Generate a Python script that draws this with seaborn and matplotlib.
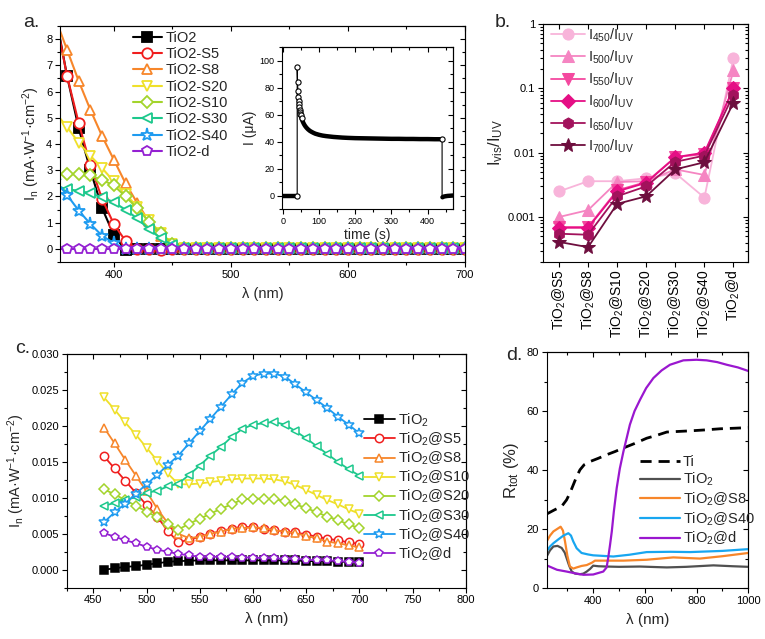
import numpy as np
import pandas as pd
import seaborn as sns
import matplotlib
matplotlib.use('Agg')
import matplotlib.pyplot as plt
from matplotlib.ticker import MultipleLocator, FuncFormatter, LogLocator, NullFormatter

sns.set_theme(style='ticks')
plt.rcParams['font.family'] = ['Liberation Sans', 'DejaVu Sans']
plt.rcParams['mathtext.default'] = 'regular'
plt.rcParams['axes.edgecolor'] = 'black'
plt.rcParams['axes.linewidth'] = 0.8
plt.rcParams['xtick.color'] = 'black'
plt.rcParams['ytick.color'] = 'black'

# ---------------- panel a : photocurrent in UV region ----------------
wl_a = [350, 360, 370, 380, 390, 400, 410, 420, 430, 440, 450, 460, 470, 480, 490, 500, 510, 520,
        530, 540, 550, 560, 570, 580, 590, 600, 610, 620, 630, 640, 650, 660, 670, 680, 690, 700]
labels_a = ['TiO2', 'TiO2-S5', 'TiO2-S8', 'TiO2-S20', 'TiO2-S10', 'TiO2-S30', 'TiO2-S40', 'TiO2-d']
a_tio2 = [9.0, 6.6, 4.6, 3.0, 1.55, 0.53, -0.05, 0.0, 0.0, 0.0, 0.0, 0.0, 0.0, 0.0, 0.0, 0.0, 0.0, 0.0,
          0.0, 0.0, 0.0, 0.0, 0.0, 0.0, 0.0, 0.0, 0.0, 0.0, 0.0, 0.0, 0.0, 0.0, 0.0, 0.0, 0.0, 0.0]
a_s5 = [8.9, 6.6, 4.8, 3.2, 1.9, 0.95, 0.3, 0.0, 0.0, -0.05, 0.0, 0.0, 0.0, 0.0, 0.0, 0.0, 0.0, 0.0,
        0.0, 0.0, 0.0, 0.0, 0.0, 0.0, 0.0, 0.0, 0.0, 0.0, 0.0, 0.0, 0.0, 0.0, 0.0, 0.0, 0.0, 0.0]
a_s8 = [8.8, 7.6, 6.4, 5.3, 4.3, 3.4, 2.5, 1.75, 1.05, 0.5, 0.15, 0.02, 0.02, 0.02, 0.02, 0.02, 0.02, 0.02,
        0.02, 0.02, 0.02, 0.02, 0.02, 0.02, 0.02, 0.02, 0.02, 0.02, 0.02, 0.02, 0.02, 0.02, 0.02, 0.02, 0.02, 0.02]
a_s20 = [5.2, 4.65, 4.05, 3.55, 3.08, 2.57, 2.1, 1.6, 1.1, 0.6, 0.2, 0.03, 0.03, 0.03, 0.03, 0.03, 0.03, 0.03,
         0.03, 0.03, 0.03, 0.03, 0.03, 0.03, 0.03, 0.03, 0.03, 0.03, 0.03, 0.03, 0.03, 0.03, 0.03, 0.03, 0.03, 0.03]
a_s10 = [2.85, 2.85, 2.85, 2.8, 2.63, 2.42, 2.0, 1.55, 1.04, 0.6, 0.2, 0.04, 0.04, 0.04, 0.04, 0.04, 0.04, 0.04,
         0.04, 0.04, 0.04, 0.04, 0.04, 0.04, 0.04, 0.04, 0.04, 0.04, 0.04, 0.04, 0.04, 0.04, 0.04, 0.04, 0.04, 0.04]
a_s30 = [2.4, 2.28, 2.21, 2.12, 1.97, 1.78, 1.49, 1.16, 0.75, 0.41, 0.15, 0.05, 0.05, 0.05, 0.05, 0.05, 0.05, 0.05,
         0.05, 0.05, 0.05, 0.05, 0.05, 0.05, 0.05, 0.05, 0.05, 0.05, 0.05, 0.05, 0.05, 0.05, 0.05, 0.05, 0.05, 0.05]
a_s40 = [2.6, 2.06, 1.46, 0.95, 0.5, 0.22, 0.0, 0.0, 0.0, 0.0, 0.0, 0.0, 0.0, 0.0, 0.0, 0.0, 0.0, 0.0,
         0.0, 0.0, 0.0, 0.0, 0.0, 0.0, 0.0, 0.0, 0.0, 0.0, 0.0, 0.0, 0.0, 0.0, 0.0, 0.0, 0.0, 0.0]
a_d = [0.0, 0.0, 0.0, 0.0, 0.0, 0.0, 0.0, 0.0, 0.0, 0.0, 0.0, 0.0, 0.0, 0.0, 0.0, 0.0, 0.0, 0.0,
       0.0, 0.0, 0.0, 0.0, 0.0, 0.0, 0.0, 0.0, 0.0, 0.0, 0.0, 0.0, 0.0, 0.0, 0.0, 0.0, 0.0, 0.0]

# inset: current transient
t_dark = [0, 5, 10, 15, 20, 25, 30, 35, 40]
i_dark = [0.0, 0.0, 0.0, 0.0, 0.0, 0.0, 0.0, 0.0, 0.0]
t_light = [40, 41, 42, 43, 44, 45, 46, 47, 48, 49, 50, 52, 54, 56, 58, 60, 63, 66, 70, 75, 80, 85, 90,
           100, 110, 120, 130, 140, 150, 165, 180, 200, 220, 240, 260, 280, 300, 320, 340, 360, 380,
           400, 420, 440]
i_light = [95.0, 84.0, 77.5, 73.0, 70.0, 67.5, 65.5, 63.5, 62.0, 60.5, 59.3, 57.3, 55.7, 54.4, 53.3,
           52.3, 51.1, 50.1, 49.0, 47.9, 47.1, 46.4, 45.8, 45.0, 44.4, 44.0, 43.7, 43.4, 43.2, 42.9,
           42.7, 42.5, 42.4, 42.3, 42.2, 42.1, 42.0, 42.0, 41.9, 41.9, 41.8, 41.8, 41.7, 41.7]
t_off = [440, 441, 443, 446, 450, 455, 460, 465, 470]
i_off = [-1.0, -1.3, -1.0, -0.7, -0.5, -0.3, -0.2, -0.1, 0.0]

# ---------------- panel b : vis/UV ratio ----------------
samples_b = ['TiO$_2$@S5', 'TiO$_2$@S8', 'TiO$_2$@S10', 'TiO$_2$@S20', 'TiO$_2$@S30', 'TiO$_2$@S40', 'TiO$_2$@d']
ratio_labels = ['450', '500', '550', '600', '650', '700']
r450 = [0.0025, 0.0036, 0.0036, 0.0040, 0.0048, 0.0020, 0.30]
r500 = [0.0010, 0.00128, 0.0035, 0.0036, 0.0055, 0.0045, 0.19]
r550 = [0.00070, 0.00070, 0.0026, 0.0035, 0.0085, 0.0095, 0.10]
r600 = [0.00068, 0.00068, 0.0025, 0.0034, 0.0085, 0.0100, 0.10]
r650 = [0.00055, 0.00053, 0.0021, 0.0030, 0.0072, 0.0090, 0.08]
r700 = [0.00041, 0.00034, 0.0016, 0.0021, 0.0055, 0.0071, 0.06]

# ---------------- panel c : photocurrent in visible ----------------
wl_c = [460, 470, 480, 490, 500, 510, 520, 530, 540, 550, 560, 570, 580, 590, 600, 610, 620, 630,
        640, 650, 660, 670, 680, 690, 700]
labels_c = ['TiO$_2$', 'TiO$_2$@S5', 'TiO$_2$@S8', 'TiO$_2$@S10', 'TiO$_2$@S20', 'TiO$_2$@S30', 'TiO$_2$@S40', 'TiO$_2$@d']
c_tio2 = [0.0000, 0.0002, 0.0004, 0.0005, 0.0007, 0.0009, 0.0011, 0.0012, 0.00125, 0.0013, 0.0013, 0.0013,
          0.0013, 0.0013, 0.0013, 0.0013, 0.0013, 0.0013, 0.0013, 0.0012, 0.0012, 0.0012, 0.0011, 0.0011, 0.0011]
c_s5 = [0.0158, 0.0141, 0.0124, 0.0107, 0.0090, 0.0074, 0.0054, 0.0038, 0.0042, 0.0046, 0.0050, 0.0054,
        0.0057, 0.0060, 0.0059, 0.0057, 0.0055, 0.0053, 0.0052, 0.0049, 0.0046, 0.0043, 0.0041, 0.0038, 0.0036]
c_s8 = [0.0198, 0.0176, 0.0153, 0.0131, 0.0109, 0.0085, 0.0065, 0.0050, 0.0044, 0.0046, 0.0050, 0.0053,
        0.0057, 0.0058, 0.0059, 0.0058, 0.0055, 0.0053, 0.0051, 0.0047, 0.0044, 0.0039, 0.0037, 0.0034, 0.0031]
c_s10 = [0.0240, 0.0223, 0.0205, 0.0188, 0.0170, 0.0152, 0.0134, 0.0119, 0.0119, 0.0120, 0.0122, 0.0124,
         0.0126, 0.0127, 0.0127, 0.0127, 0.0126, 0.0123, 0.0118, 0.0111, 0.0104, 0.0097, 0.0091, 0.0084, 0.0078]
c_s20 = [0.0112, 0.0105, 0.0097, 0.0089, 0.0081, 0.0073, 0.0064, 0.0056, 0.0064, 0.0071, 0.0078, 0.0085,
         0.0091, 0.0098, 0.0099, 0.0099, 0.0098, 0.0096, 0.0091, 0.0086, 0.0080, 0.0074, 0.0069, 0.0063, 0.0058]
c_s30 = [0.0089, 0.0093, 0.0097, 0.0101, 0.0107, 0.0110, 0.0116, 0.0120, 0.0132, 0.0145, 0.0159, 0.0171,
         0.0185, 0.0196, 0.0202, 0.0204, 0.0206, 0.0202, 0.0193, 0.0183, 0.0172, 0.0161, 0.0150, 0.0140, 0.0131]
c_s40 = [0.0066, 0.0080, 0.0092, 0.0106, 0.0119, 0.0132, 0.0146, 0.0159, 0.0176, 0.0193, 0.0210, 0.0227,
         0.0244, 0.0260, 0.0270, 0.0273, 0.0273, 0.0269, 0.0258, 0.0247, 0.0236, 0.0225, 0.0213, 0.0202, 0.0190]
c_d = [0.0051, 0.0046, 0.0041, 0.0037, 0.0032, 0.0028, 0.0025, 0.0022, 0.0020, 0.0018, 0.0018, 0.0018,
       0.0018, 0.0017, 0.0017, 0.0016, 0.0016, 0.0015, 0.0015, 0.0014, 0.0013, 0.0013, 0.0012, 0.0011, 0.0010]

# ---------------- panel d : total reflectance ----------------
labels_d = ['Ti', 'TiO$_2$', 'TiO$_2$@S8', 'TiO$_2$@S40', 'TiO$_2$@d']
d_ti_wl = [220, 250, 278, 297, 310, 323, 336, 349, 365, 388, 420, 452, 485, 517, 560, 607, 650, 685,
           730, 775, 830, 891, 950, 1000]
d_ti = [25.1, 26.5, 27.7, 29.9, 32.2, 35.0, 37.8, 40.1, 41.8, 42.9, 44.0, 45.2, 46.3, 47.5, 49.0, 50.8,
        51.9, 52.9, 53.1, 53.3, 53.6, 54.0, 54.2, 54.4]
d_tio2_wl = [220, 233, 246, 262, 278, 290, 297, 307, 317, 330, 349, 362, 375, 388, 400, 420, 452, 500,
             581, 650, 685, 760, 865, 940, 1000]
d_tio2 = [10.7, 12.8, 14.1, 14.3, 13.6, 12.0, 10.2, 7.6, 5.6, 4.9, 4.7, 4.9, 5.6, 6.5, 7.6, 7.4, 7.3,
          7.2, 7.3, 7.1, 7.0, 7.2, 7.7, 7.4, 7.2]
d_s8_wl = [220, 233, 246, 260, 274, 283, 291, 300, 310, 323, 336, 355, 375, 395, 407, 450, 517, 607,
           710, 760, 813, 900, 1000]
d_s8 = [15.8, 17.8, 19.2, 20.0, 20.8, 19.5, 15.8, 11.0, 7.3, 6.6, 7.0, 7.5, 7.8, 8.6, 9.3, 9.3, 9.3,
        9.6, 10.4, 10.2, 10.0, 10.8, 11.9]
d_s40_wl = [220, 233, 246, 265, 285, 304, 314, 323, 336, 355, 380, 400, 420, 478, 540, 607, 700, 775,
            900, 1000]
d_s40 = [12.5, 14.1, 15.2, 16.5, 17.8, 18.6, 17.8, 15.8, 13.5, 11.9, 11.4, 11.1, 11.0, 10.7, 11.3,
         12.2, 12.3, 12.2, 12.6, 13.2]
d_d_wl = [220, 260, 297, 330, 362, 400, 439, 452, 458, 465, 472, 480, 491, 503, 517, 530, 542, 560,
          581, 605, 633, 665, 697, 749, 800, 839, 880, 917, 960, 1000]
d_d = [7.7, 6.2, 5.6, 5.0, 4.5, 4.6, 5.6, 7.0, 10.2, 14.5, 19.2, 26.0, 33.9, 40.5, 46.3, 51.0, 55.4,
       60.0, 63.8, 67.8, 71.2, 73.8, 75.7, 77.2, 77.4, 77.2, 76.6, 75.7, 74.8, 73.6]

# colours / markers
cols = ['black', '#F01E1E', '#F7862A', '#EFE02A', '#A3D42C', '#1CC88C', '#1E9BF0', '#9420D2']
marks = ['s', 'o', '^', 'v', 'D', '<', '*', 'p']
pinks = ['#F8B4DA', '#F585C2', '#F4489F', '#E50F85', '#A2125C', '#6E0E3E']
pmarks = ['o', '^', 'v', 'D', 'h', '*']
dcols = ['black', '#505050', '#F7862A', '#18A6F0', '#9A17CF']


def frame(ax, xmaj, xmin, ymaj=None, ymin=None, fs=8):
    ax.tick_params(which='both', direction='out', labelsize=fs, width=0.8, pad=2)
    ax.tick_params(which='major', length=3.5)
    ax.tick_params(which='minor', length=2)
    ax.xaxis.set_major_locator(MultipleLocator(xmaj))
    ax.xaxis.set_minor_locator(MultipleLocator(xmin))
    ax.yaxis.set_major_locator(MultipleLocator(ymaj))
    ax.yaxis.set_minor_locator(MultipleLocator(ymin))
    top = ax.secondary_xaxis('top')
    top.xaxis.set_major_locator(MultipleLocator(xmaj))
    top.xaxis.set_minor_locator(MultipleLocator(xmin))
    top.tick_params(which='both', direction='in', labeltop=False, width=0.8)
    top.tick_params(which='major', length=3.5)
    top.tick_params(which='minor', length=2)
    right = ax.secondary_yaxis('right')
    right.yaxis.set_major_locator(MultipleLocator(ymaj))
    right.yaxis.set_minor_locator(MultipleLocator(ymin))
    right.tick_params(which='both', direction='in', labelright=False, width=0.8)
    right.tick_params(which='major', length=3.5)
    right.tick_params(which='minor', length=2)


fig = plt.figure(figsize=(7.65, 6.39), dpi=100)
fig.patch.set_facecolor('white')

# ===== panel a =====
ax_a = fig.add_axes([0.0784, 0.590, 0.5294, 0.3693])
series_a = [a_tio2, a_s5, a_s8, a_s20, a_s10, a_s30, a_s40, a_d]
for k, (yv, lab) in enumerate(zip(series_a, labels_a)):
    ms = 9.5 if marks[k] == '*' else 7.5
    if marks[k] == 'D':
        ms = 6.3
    sns.lineplot(x=wl_a, y=yv, ax=ax_a, color=cols[k], marker=marks[k], markersize=ms,
                 markerfacecolor=cols[k] if k == 0 else 'white', markeredgecolor=cols[k],
                 markeredgewidth=1.3, linewidth=1.5, label=lab, estimator=None, sort=False)
ax_a.set_xlim(354, 700)
ax_a.set_ylim(-0.5, 8.5)
frame(ax_a, 100, 50, 1, 0.5)
ax_a.set_xlabel('λ (nm)', fontsize=10.5, labelpad=5)
ax_a.set_ylabel('I$_n$ (mA·W$^{-1}$·cm$^{-2}$)', fontsize=10.5, labelpad=3)
ax_a.legend(loc='upper left', bbox_to_anchor=(0.18, 0.98), frameon=False, fontsize=10.5,
            handlelength=2.0, handletextpad=0.25, labelspacing=0.16, borderaxespad=0, borderpad=0)
fig.text(0.030, 0.958, 'a.', fontsize=14)

# inset
ax_i = fig.add_axes([0.3686, 0.6729, 0.2235, 0.2535])
ax_i.set_facecolor('white')
t_all = t_dark + t_light + t_off
i_all = i_dark + i_light + i_off
sns.lineplot(x=t_all, y=i_all, ax=ax_i, color='black', linewidth=0.8, estimator=None, sort=False)
sns.lineplot(x=t_dark, y=i_dark, ax=ax_i, color='black', linewidth=3.2, estimator=None, sort=False)
sns.lineplot(x=t_light[9:], y=i_light[9:], ax=ax_i, color='black', linewidth=3.2, estimator=None, sort=False)
sns.lineplot(x=t_off[1:], y=i_off[1:], ax=ax_i, color='black', linewidth=3.2, estimator=None, sort=False)
pts_t = [t_dark[-1]] + t_light[:12] + [t_light[-1]]
pts_i = [i_dark[-1]] + i_light[:12] + [i_light[-1]]
sns.scatterplot(x=pts_t, y=pts_i, ax=ax_i, marker='o', s=14, facecolor='white', edgecolor='black',
                linewidth=0.8, zorder=5)
ax_i.set_xlim(-2, 470)
ax_i.set_ylim(-10, 110)
frame(ax_i, 100, 50, 20, 10, fs=6.5)
ax_i.set_xlabel('time (s)', fontsize=10, labelpad=2)
ax_i.set_ylabel('I (μA)', fontsize=10, labelpad=2)

# ===== panel b =====
ax_b = fig.add_axes([0.7098, 0.590, 0.268, 0.3725])
ax_b.set_yscale('log')
xb = list(range(len(samples_b)))
series_b = [r450, r500, r550, r600, r650, r700]
for k, (yv, lab) in enumerate(zip(series_b, ratio_labels)):
    ms = 10 if pmarks[k] == '*' else 8
    if pmarks[k] == 'D':
        ms = 7
    sns.lineplot(x=xb, y=yv, ax=ax_b, color=pinks[k], marker=pmarks[k], markersize=ms,
                 markeredgecolor=pinks[k], markerfacecolor=pinks[k], linewidth=1.3,
                 label='I$_{' + lab + '}$/I$_{UV}$', estimator=None, sort=False)
ax_b.set_yscale('log')
ax_b.set_xlim(-0.55, 6.5)
ax_b.set_ylim(2e-4, 1)
ax_b.tick_params(which='both', direction='out', labelsize=8, width=0.8, pad=2)
ax_b.tick_params(which='major', length=3.5)
ax_b.tick_params(which='minor', length=2)
ax_b.set_xticks(xb)
ax_b.set_xticklabels(samples_b, rotation=90, fontsize=10)
ax_b.yaxis.set_major_locator(LogLocator(base=10))
ax_b.yaxis.set_minor_locator(LogLocator(base=10, subs=np.arange(2, 10)))
ax_b.yaxis.set_major_formatter(FuncFormatter(lambda v, p: f'{v:g}'))
ax_b.yaxis.set_minor_formatter(NullFormatter())
top_b = ax_b.secondary_xaxis('top')
top_b.set_xticks(xb)
top_b.tick_params(direction='in', labeltop=False, length=3.5, width=0.8)
right_b = ax_b.secondary_yaxis('right')
right_b.yaxis.set_major_locator(LogLocator(base=10))
right_b.yaxis.set_minor_locator(LogLocator(base=10, subs=np.arange(2, 10)))
right_b.yaxis.set_minor_formatter(NullFormatter())
right_b.tick_params(which='both', direction='in', labelright=False, width=0.8)
right_b.tick_params(which='major', length=3.5)
right_b.tick_params(which='minor', length=2)
ax_b.set_ylabel('I$_{vis}$/I$_{UV}$', fontsize=12, labelpad=2)
ax_b.legend(loc='upper left', bbox_to_anchor=(0.04, 0.99), frameon=False, fontsize=10.5,
            handlelength=2.3, handletextpad=0.25, labelspacing=0.33, borderaxespad=0, borderpad=0)
fig.text(0.647, 0.958, 'b.', fontsize=14)

# ===== panel c =====
ax_c = fig.add_axes([0.0872, 0.0803, 0.5216, 0.3653])
series_c = [c_tio2, c_s5, c_s8, c_s10, c_s20, c_s30, c_s40, c_d]
for k, (yv, lab) in enumerate(zip(series_c, labels_c)):
    ms = 7.5 if marks[k] == '*' else 6
    if marks[k] == 'D':
        ms = 5.2
    sns.lineplot(x=wl_c, y=yv, ax=ax_c, color=cols[k], marker=marks[k], markersize=ms,
                 markerfacecolor=cols[k] if k == 0 else 'white', markeredgecolor=cols[k],
                 markeredgewidth=1.1, linewidth=1.3, label=lab, estimator=None, sort=False)
ax_c.set_xlim(425, 800)
ax_c.set_ylim(-0.0025, 0.030)
frame(ax_c, 50, 25, 0.005, 0.0025)
ax_c.yaxis.set_major_formatter(FuncFormatter(lambda v, p: f'{v:.3f}'))
ax_c.set_xlabel('λ (nm)', fontsize=11, labelpad=5)
ax_c.set_ylabel('I$_n$ (mA·W$^{-1}$·cm$^{-2}$)', fontsize=10.5, labelpad=3)
ax_c.legend(loc='upper left', bbox_to_anchor=(0.745, 0.755), frameon=False, fontsize=10.5,
            handlelength=2.1, handletextpad=0.25, labelspacing=0.12, borderaxespad=0, borderpad=0)
fig.text(0.020, 0.447, 'c.', fontsize=14)

# ===== panel d =====
ax_d = fig.add_axes([0.7146, 0.0797, 0.2635, 0.3693])
series_d = [(d_ti_wl, d_ti), (d_tio2_wl, d_tio2), (d_s8_wl, d_s8), (d_s40_wl, d_s40), (d_d_wl, d_d)]
for k, ((xv, yv), lab) in enumerate(zip(series_d, labels_d)):
    sns.lineplot(x=xv, y=yv, ax=ax_d, color=dcols[k], linewidth=2.0 if k == 0 else 1.6,
                 linestyle=(0, (4, 2.5)) if k == 0 else '-', label=lab, estimator=None, sort=False)
ax_d.set_xlim(220, 1000)
ax_d.set_ylim(0, 80)
frame(ax_d, 200, 100, 20, 10)
ax_d.set_xlabel('λ (nm)', fontsize=11, labelpad=5)
ax_d.set_ylabel('R$_{tot}$ (%)', fontsize=12, labelpad=4)
ax_d.legend(loc='upper left', bbox_to_anchor=(0.465, 0.565), frameon=False, fontsize=10.5,
            handlelength=2.7, handletextpad=0.2, labelspacing=0.15, borderaxespad=0, borderpad=0)
fig.text(0.662, 0.437, 'd.', fontsize=14)

fig.savefig('out.png', dpi=100, facecolor='white')
